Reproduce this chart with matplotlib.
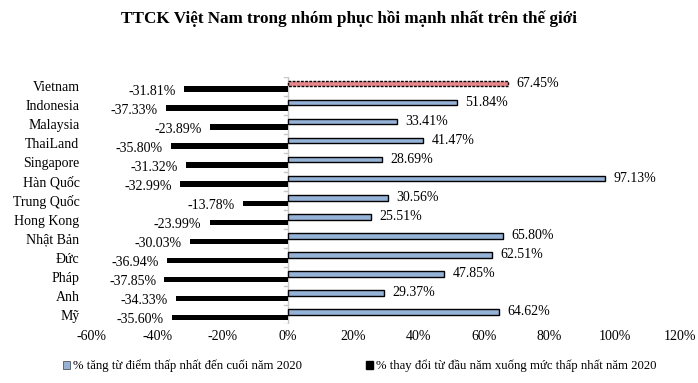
import numpy as np
import matplotlib
matplotlib.use('Agg')
import matplotlib.pyplot as plt
from matplotlib.patches import Patch

plt.rcParams['font.family'] = ['Liberation Serif', 'DejaVu Serif']

# Dữ liệu
countries = ['Vietnam', 'Indonesia', 'Malaysia', 'ThaiLand', 'Singapore', 'Hàn Quốc',
             'Trung Quốc', 'Hong Kong', 'Nhật Bản', 'Đức', 'Pháp', 'Anh', 'Mỹ']
rise = [67.45, 51.84, 33.41, 41.47, 28.69, 97.13, 30.56, 25.51, 65.80, 62.51, 47.85, 29.37, 64.62]
drop = [-31.81, -37.33, -23.89, -35.80, -31.32, -32.99, -13.78, -23.99, -30.03, -36.94, -37.85, -34.33, -35.60]
xticks = [-60, -40, -20, 0, 20, 40, 60, 80, 100, 120]

blue = '#95B3D7'
pink = '#E6878B'

fig = plt.figure(figsize=(6.98, 3.83), dpi=100)
ax = fig.add_axes([0.1318, 0.154, 0.8424, 0.645])

y = np.arange(len(countries))
h = 0.29

# Cột tăng (phía trên trong nhóm)
colors = [pink] + [blue] * (len(countries) - 1)
bars_up = ax.barh(y - h / 2, rise, height=h, color=colors, edgecolor='black', linewidth=1.0)
bars_up[0].set_linestyle((0, (2, 1)))
bars_dn = ax.barh(y + h / 2, drop, height=h, color='black', edgecolor='black', linewidth=0)

for yi, v in zip(y, rise):
    ax.text(v + 2.5, yi - h / 2, f'{v:.2f}%', va='center', ha='left', fontsize=10)
for yi, v in zip(y, drop):
    ax.text(v - 2.5, yi + h / 2 + 0.12, f'{v:.2f}%', va='center', ha='right', fontsize=10)

ax.set_xlim(-60, 120)
ax.set_ylim(len(countries) - 0.5, -0.5)
ax.set_xticks(xticks)
ax.set_xticklabels([f'{t}%' for t in xticks], fontsize=10)
ax.tick_params(axis='x', length=0, pad=4)
ax.set_yticks(y)
ax.set_yticklabels(countries, fontsize=10)
ax.tick_params(axis='y', length=0, pad=9)
for s in ax.spines.values():
    s.set_visible(False)

# Trục 0 màu xám với các vạch chia nhóm
ax.axvline(0, color='#C8C8C8', linewidth=1, zorder=0)
for b in np.arange(len(countries) + 1) - 0.5:
    ax.plot([-1.2, 0], [b, b], color='#C8C8C8', linewidth=1, zorder=0)

fig.text(0.5, 0.952, 'TTCK Việt Nam trong nhóm phục hồi mạnh nhất trên thế giới',
         ha='center', va='center', fontsize=12.3, fontweight='bold')

handles = [Patch(facecolor=blue, edgecolor='#555555', linewidth=0.6),
           Patch(facecolor='black', edgecolor='black')]
labels = ['% tăng từ điểm thấp nhất đến cuối năm 2020',
          '% thay đổi từ đầu năm xuống mức thấp nhất năm 2020']
fig.legend(handles, labels, loc='center', bbox_to_anchor=(0.515, 0.045), ncol=2,
           frameon=False, fontsize=9.2, handlelength=0.6, handleheight=0.6,
           handletextpad=0.2, columnspacing=5)

fig.savefig('out.png', dpi=100)
